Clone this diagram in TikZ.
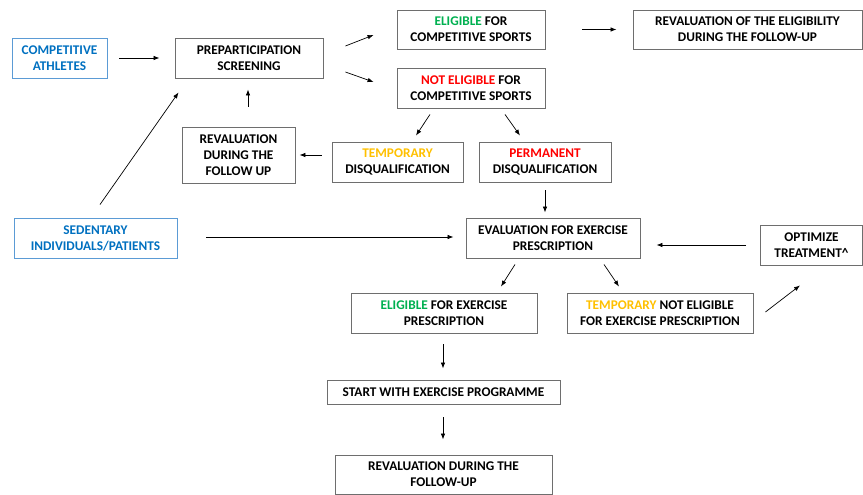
\documentclass[tikz,border=0pt]{standalone}
\usepackage{fontspec}
\setmainfont{Carlito}
\usetikzlibrary{arrows.meta}
\definecolor{bordergray}{RGB}{110,110,110}
\definecolor{lightblue}{RGB}{91,155,213}
\definecolor{textblue}{RGB}{0,112,192}
\definecolor{okgreen}{RGB}{0,176,80}
\definecolor{nored}{RGB}{255,0,0}
\definecolor{temporange}{RGB}{255,192,0}
\tikzset{
  box/.style={draw=bordergray, line width=0.9pt, align=center, inner sep=1pt,
    font=\fontsize{13.3}{16}\selectfont\bfseries},
  bluebox/.style={box, draw=lightblue, text=textblue},
  arr/.style={-{Latex[length=6pt,width=4.5pt]}, line width=0.7pt, black}
}
\begin{document}
\begin{tikzpicture}[x=1pt,y=-1pt]
\useasboundingbox (0,0) rectangle (863,495);
% nodes
\node[bluebox, minimum width=95pt, minimum height=40pt] (ath) at (59.5,58) {COMPETITIVE\\ATHLETES};
\node[box, minimum width=148pt, minimum height=40pt] (prep) at (249,58) {PREPARTICIPATION\\SCREENING};
\node[box, minimum width=148pt, minimum height=39pt] (elig) at (471,29.5) {\textcolor{okgreen}{ELIGIBLE} FOR\\COMPETITIVE SPORTS};
\node[box, minimum width=229pt, minimum height=39pt] (revalelig) at (747.5,29.5) {REVALUATION OF THE ELIGIBILITY\\DURING THE FOLLOW-UP};
\node[box, minimum width=148pt, minimum height=40pt] (notelig) at (471,88) {\textcolor{nored}{NOT ELIGIBLE} FOR\\COMPETITIVE SPORTS};
\node[box, minimum width=113pt, minimum height=56pt] (reval) at (238.5,155) {REVALUATION\\DURING THE\\FOLLOW UP};
\node[box, minimum width=131pt, minimum height=40pt] (temp) at (397.5,162) {\textcolor{temporange}{TEMPORARY}\\DISQUALIFICATION};
\node[box, minimum width=132pt, minimum height=40pt] (perm) at (545,162) {\textcolor{nored}{PERMANENT}\\DISQUALIFICATION};
\node[bluebox, minimum width=163pt, minimum height=40pt] (sed) at (95.5,238) {SEDENTARY\\INDIVIDUALS/PATIENTS};
\node[box, minimum width=174pt, minimum height=40pt] (evalx) at (553,238) {EVALUATION FOR EXERCISE\\PRESCRIPTION};
\node[box, minimum width=102pt, minimum height=40pt] (optim) at (811.5,245) {OPTIMIZE\\TREATMENT\^{}};
\node[box, minimum width=186pt, minimum height=40pt] (eligx) at (444,313) {\textcolor{okgreen}{ELIGIBLE} FOR EXERCISE\\PRESCRIPTION};
\node[box, minimum width=186pt, minimum height=40pt] (tempx) at (660,313) {\textcolor{temporange}{TEMPORARY} NOT ELIGIBLE\\FOR EXERCISE PRESCRIPTION};
\node[box, minimum width=233pt, minimum height=24pt] (start) at (443.5,392) {START WITH EXERCISE PROGRAMME};
\node[box, minimum width=217pt, minimum height=39pt] (revalx) at (443.5,474.5) {REVALUATION DURING THE\\FOLLOW-UP};
% connectors
\draw[arr, shorten <=12pt, shorten >=15pt] (ath.east) -- (prep.west);
\draw[arr] ([shift={(22,-12)}]prep.east) -- ([shift={(-23,5.5)}]elig.west);
\draw[arr] ([shift={(22,14)}]prep.east) -- ([shift={(-23,-6)}]notelig.west);
\draw[arr, shorten <=37pt, shorten >=16pt] (elig.east) -- (revalelig.west);
\draw[arr] ([shift={(-41,6)}]notelig.south) -- ([shift={(18.5,-6)}]temp.north);
\draw[arr] ([shift={(34,6)}]notelig.south) -- ([shift={(-25,-6)}]perm.north);
\draw[arr] ([shift={(-10,-7)}]temp.west) -- ([xshift=4pt]reval.east);
\draw[arr] ([shift={(9.5,-20)}]reval.north) -- ([shift={(-1,11)}]prep.south);
\draw[arr] ([shift={(4.5,-13)}]sed.north) -- ([shift={(4,14)}]prep.south west);
\draw[arr, shorten <=8pt] (perm.south) -- ([shift={(0,-5)}]perm.south |- evalx.north);
\draw[arr] ([shift={(29,-1)}]sed.east) -- ([shift={(-12,-1)}]evalx.west);
\draw[arr, shorten <=14pt] (optim.west) -- ([shift={(16,0)}]evalx.east |- optim.west);
\draw[arr] ([shift={(-38,6)}]evalx.south) -- ([shift={(57,-6)}]eligx.north);
\draw[arr] ([shift={(51,6)}]evalx.south) -- ([shift={(-41,-6)}]tempx.north);
\draw[arr] ([shift={(12,-1)}]tempx.east) -- ([shift={(-11.5,20)}]optim.south);
\draw[arr] ([shift={(-1,11)}]eligx.south) -- ([shift={(-0.5,-11)}]start.north);
\draw[arr] ([shift={(-0.5,13)}]start.south) -- ([shift={(-0.5,-15)}]revalx.north);
\end{tikzpicture}
\end{document}
